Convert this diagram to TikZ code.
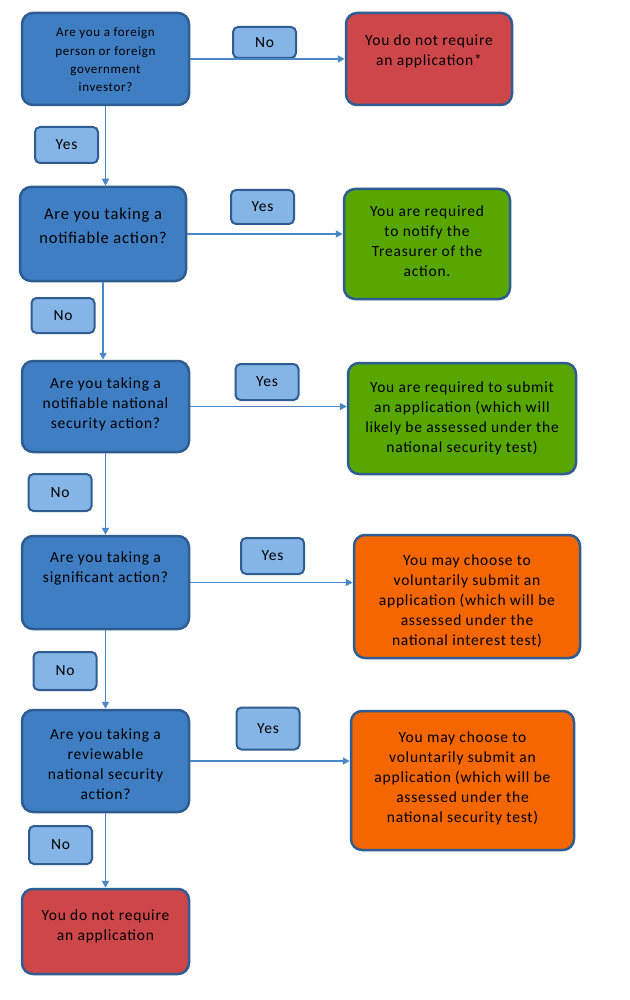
\documentclass[tikz,border=0pt]{standalone}
\usepackage{fontspec}
\setmainfont[LetterSpace=5]{Carlito}
\usetikzlibrary{arrows.meta, positioning}
\definecolor{qblue}{HTML}{3F7EC3}
\definecolor{edgeblue}{HTML}{2F5D92}
\definecolor{lblblue}{HTML}{85B4E6}
\definecolor{noreq}{HTML}{CD4649}
\definecolor{reqgreen}{HTML}{58A600}
\definecolor{optorange}{HTML}{F36600}
\definecolor{linkblue}{HTML}{4A87C9}

% width, height, top gap, lines
\newcommand{\boxlines}[4]{\parbox[c][#2][t]{#1}{\centering\vspace*{#3}#4\par}}

\begin{document}
\begin{tikzpicture}[
    x=1pt, y=1pt,
    box/.style={rectangle, draw=edgeblue, line width=2.5pt, rounded corners=11pt, inner sep=0pt, font=\fontsize{15.5}{20}\selectfont},
    question/.style={box, fill=qblue},
    noapp/.style={box, fill=noreq},
    required/.style={box, fill=reqgreen},
    optional/.style={box, fill=optorange},
    answer/.style={rectangle, draw=edgeblue, line width=2pt, fill=lblblue, rounded corners=5pt, inner sep=0pt, minimum width=63pt, font=\fontsize{15.5}{18}\selectfont},
    link/.style={-{Triangle[length=7pt,width=7pt]}, line width=1.7pt, linkblue}
]
    \useasboundingbox[fill=white] (0,0) rectangle (629,-1000);

    % Questions
    \node (q1) [question, font=\fontsize{13}{18.3}\selectfont] at (105.5,-59) {\boxlines{167pt}{92pt}{15pt}{Are you a foreign\\person or foreign\\government\\investor?}};
    \node (q2) [question, font=\fontsize{16.5}{24}\selectfont] at (103,-234) {\boxlines{166pt}{94pt}{21pt}{Are you taking a\\notifiable action?}};
    \node (q3) [question] at (105.5,-406.5) {\boxlines{167pt}{91pt}{17pt}{Are you taking a\\notifiable national\\security action?}};
    \node (q4) [question] at (105.5,-582.5) {\boxlines{167pt}{93pt}{16pt}{Are you taking a\\significant action?}};
    \node (q5) [question] at (105.5,-761) {\boxlines{167pt}{102pt}{19pt}{Are you taking a\\reviewable\\national security\\action?}};

    % Outcomes
    \node (r1) [noapp] at (429,-59) {\boxlines{166pt}{92pt}{22pt}{You do not require\\an application*}};
    \node (g1) [required] at (427,-244) {\boxlines{166pt}{110pt}{17pt}{You are required\\to notify the\\Treasurer of the\\action.}};
    \node (g2) [required] at (462,-418.5) {\boxlines{228pt}{111pt}{19pt}{You are required to submit\\an application (which will\\likely be assessed under the\\national security test)}};
    \node (o1) [optional] at (467,-596.5) {\boxlines{226pt}{123pt}{20pt}{You may choose to\\voluntarily submit an\\application (which will be\\assessed under the\\national interest test)}};
    \node (o2) [optional] at (462.5,-780.5) {\boxlines{223pt}{139pt}{21pt}{You may choose to\\voluntarily submit an\\application (which will be\\assessed under the\\national security test)}};
    \node (r2) [noapp] at (105.5,-931.5) {\boxlines{167pt}{85pt}{21pt}{You do not require\\an application}};

    % Yes / No tags
    \node (no1) [answer, minimum height=31pt] at (264.5,-42.5) {No};
    \node (yes1) [answer, minimum height=36pt] at (66.5,-145) {Yes};
    \node (yes2) [answer, minimum height=34pt] at (262.5,-207) {Yes};
    \node (no2) [answer, minimum height=35pt] at (63,-315.5) {No};
    \node (yes3) [answer, minimum height=36pt] at (267,-382) {Yes};
    \node (no3) [answer, minimum height=37pt] at (60,-492.5) {No};
    \node (yes4) [answer, minimum height=36pt] at (272.5,-556) {Yes};
    \node (no4) [answer, minimum height=38pt] at (65,-671) {No};
    \node (yes5) [answer, minimum height=42pt] at (268,-728.5) {Yes};
    \node (no5) [answer, minimum height=38pt] at (60.5,-845) {No};

    % Paths
    \draw [link] (q1.east) -- (q1.east -| r1.west);
    \draw [link] (q2.east) -- (q2.east -| g1.west);
    \draw [link] (q3.east) -- (q3.east -| g2.west);
    \draw [link] (q4.east) -- (q4.east -| o1.west);
    \draw [link] (q5.east) -- (q5.east -| o2.west);
    \draw [link] (q1.south) -- (q1.south |- q2.north);
    \draw [link] (q2.south) -- (q2.south |- q3.north);
    \draw [link] (q3.south) -- (q3.south |- q4.north);
    \draw [link] (q4.south) -- (q4.south |- q5.north);
    \draw [link] (q5.south) -- (q5.south |- r2.north);
\end{tikzpicture}
\end{document}
